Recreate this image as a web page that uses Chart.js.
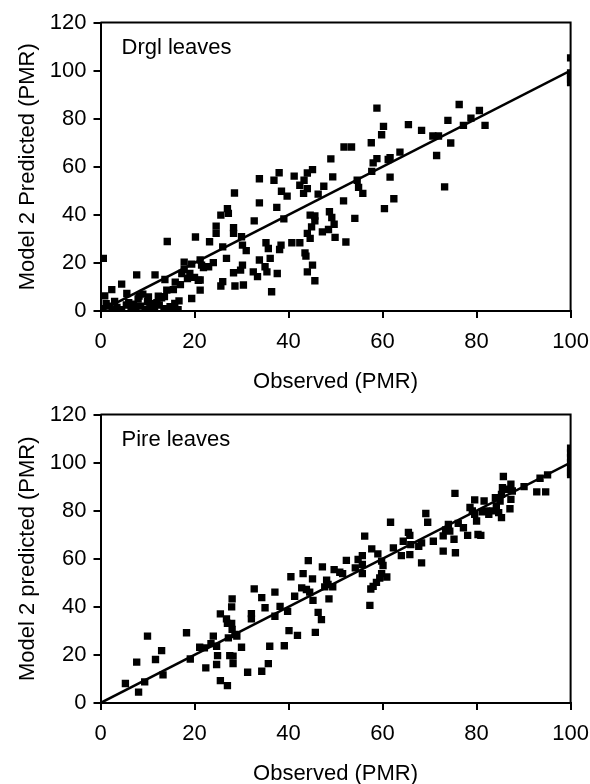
<!DOCTYPE html>
<html>
<head>
<meta charset="utf-8">
<title>Model 2 predicted vs observed PMR</title>
<script src="https://cdn.jsdelivr.net/npm/chart.js@4.4.1/dist/chart.umd.min.js"></script>
<style>
  html, body { margin: 0; padding: 0; background: #fff; overflow: hidden; }
  #wrap { position: relative; width: 590px; height: 784px; overflow: hidden; }
  .panel { position: absolute; left: 0; width: 590px; height: 400px; }
</style>
</head>
<body>
<div id="wrap">
  <div class="panel" style="top:0"><canvas id="drglChart" width="590" height="400"></canvas></div>
  <div class="panel" style="top:392px"><canvas id="pireChart" width="590" height="400"></canvas></div>
</div>
<script>
// Axis ticks
const xTicks = [0, 20, 40, 60, 80, 100];
const yTicks = [0, 20, 40, 60, 80, 100, 120];

// 1:1 line
const fitX = [0, 100];
const fitY = [0, 100];

// Drgl leaves - observed PMR
const drglObs = [
  0.6, 14.2, 20.2, 7.7, 11.6, 13.7, 4.5, 2.4, 0.9, 5.6, 8.2, 10.2, 12.3, 13.6, 14.1, 15.5, 16.7, 19.4, 14.8,
  17.8, 17.8, 17.3, 19.4, 19.0, 20.8, 21.2, 15.9, 17.0, 18.5, 20.0,
  0.5, 1.5, 2.5, 3.5, 4.5, 5.5, 6.5, 7.5, 8.5, 9.5, 10.5, 11.5, 12.5, 13.5, 14.5, 15.5, 16.5,
  3.0, 6.0, 8.0, 10.0, 12.0, 13.0, 9.0, 11.0, 1.2, 7.0, 15.8,
  51.8, 53.4, 49.0, 38.0, 36.9, 33.8, 41.2, 44.0, 45.1, 43.3, 49.4, 42.4, 44.0, 43.2, 38.5, 39.7, 47.5, 46.3,
  54.6, 54.9, 55.8, 51.7, 28.5, 33.8, 37.5, 27.0, 27.2, 25.6, 24.6, 24.6, 23.2, 28.3, 28.3, 30.0, 32.7, 39.0,
  44.6, 45.6, 48.7, 49.2, 45.6, 44.9, 49.7, 48.5, 47.2, 44.0, 44.6, 54.1, 49.9, 52.2, 40.7, 42.4, 35.2, 35.7,
  38.4, 38.1, 43.5, 43.7, 36.1, 33.8, 30.2, 31.0, 26.0, 26.8, 21.2, 21.5, 24.0, 23.0, 21.9, 30.2, 29.8, 28.3,
  32.5, 33.4, 35.0, 35.4, 37.6, 45.1, 44.0, 45.6, 26.0, 25.6, 28.6, 30.4, 36.4, 21.2,
  58.8, 60.2, 59.8, 57.6, 58.8, 58.0, 57.7, 61.6, 61.2, 63.7, 65.5, 68.3, 70.7, 71.9, 74.5, 71.5, 73.2, 73.9,
  76.3, 78.8, 77.2, 80.6, 81.8, 61.6, 62.4, 60.4,
  100, 100, 100, 100, 100
];
// Drgl leaves - Model 2 predicted PMR
const drglPred = [
  21.9, 28.9, 30.8, 15.0, 15.0, 13.1, 11.2, 8.9, 6.3, 7.3, 6.2, 5.9, 6.2, 6.0, 8.7, 8.9, 4.2, 5.2, 1.8,
  20.3, 17.3, 15.6, 19.5, 15.6, 12.8, 8.7, 12.0, 11.0, 13.5, 14.0,
  1.0, 2.0, 0.5, 1.5, 0.5, 2.5, 1.0, 0.5, 2.0, 0.8, 1.5, 0.5, 2.5, 1.0, 0.5, 1.5, 0.5,
  4.0, 3.5, 5.0, 4.0, 3.5, 5.5, 7.0, 3.0, 3.0, 2.8, 3.2,
  68.2, 68.2, 63.3, 57.5, 54.4, 55.0, 56.1, 57.4, 58.8, 54.4, 55.8, 52.3, 50.9, 48.9, 49.8, 47.8, 51.9, 48.6,
  54.4, 51.4, 48.9, 45.8, 49.1, 45.0, 43.1, 42.6, 40.6, 39.9, 35.3, 32.3, 28.8, 34.7, 32.3, 30.9, 37.5, 38.3,
  39.9, 39.5, 41.3, 38.9, 37.5, 35.0, 36.1, 33.9, 32.9, 32.3, 30.2, 38.5, 30.6, 28.7, 28.4, 28.4, 28.4, 26.0,
  27.4, 25.6, 24.2, 22.8, 21.9, 21.2, 27.4, 25.1, 26.7, 21.9, 21.2, 19.1, 20.1, 18.4, 18.1, 19.1, 17.0, 15.9,
  16.3, 14.3, 18.4, 16.3, 15.6, 19.1, 16.3, 12.6, 12.2, 10.4, 10.4, 10.8, 8.0, 12.9,
  84.4, 76.8, 73.3, 70.0, 63.4, 61.6, 58.1, 63.8, 63.0, 66.1, 77.5, 75.1, 72.8, 72.8, 69.9, 64.7, 51.6, 79.3,
  85.9, 80.2, 77.2, 83.4, 77.2, 55.7, 46.7, 42.6,
  105.3, 99.0, 98.0, 96.5, 95.0
];

// Pire leaves - observed PMR
const pireObs = [
  5.3, 8.1, 9.4, 7.7, 10.0, 11.7, 13.0, 13.3, 18.3, 19.1, 21.1, 22.1, 22.4, 24.0, 23.5, 24.7, 24.9, 24.7,
  25.5, 27.0, 25.5, 26.8, 27.0, 27.9, 28.0, 28.6, 29.0, 27.2, 27.9, 28.0, 27.5, 28.2, 28.2, 30.0, 31.3, 32.1,
  32.1, 32.7, 34.3, 35.0, 34.3, 35.7, 36.0, 37.1, 37.1,
  38.2, 39.8, 41.3, 40.5, 43.1, 44.2, 45.1, 42.8, 43.8, 44.5, 45.2, 47.2, 48.1, 47.7, 48.4, 49.4, 48.6, 46.3,
  47.0, 45.7, 40.1, 41.9, 39.1, 49.7, 50.9, 51.5, 52.3, 54.2, 54.8, 55.7, 55.7, 55.7, 56.2, 57.7, 59.0, 59.8,
  60.1, 59.8, 59.4, 60.9, 58.7, 58.0, 57.5, 57.3, 61.7, 62.3, 64.0, 65.8, 64.4, 65.5, 65.8, 66.0, 67.7, 68.3,
  69.2, 69.6, 68.3, 70.8,
  75.4, 72.9, 75.5, 73.4, 74.0, 74.3, 75.2, 76.1, 77.2, 78.1, 72.9, 78.6, 79.1, 79.6, 80.0, 80.3, 80.9, 79.6,
  81.2, 81.6, 82.1, 82.6, 83.5, 84.0, 84.2, 85.0, 85.3, 84.7, 85.3, 85.7, 85.5, 86.4, 87.3, 87.6, 87.3, 87.1,
  90.1, 92.8, 94.7, 93.5, 95.1,
  100, 100, 100, 100, 100, 100, 100
];
// Pire leaves - Model 2 predicted PMR
const pirePred = [
  8.1, 4.5, 8.8, 17.0, 27.8, 18.1, 21.8, 11.7, 29.2, 18.3, 23.2, 22.9, 14.6, 27.8, 24.7, 23.6, 19.7, 16.0,
  9.3, 7.2, 37.1, 35.0, 33.1, 33.1, 30.6, 28.5, 27.8, 27.1, 40.0, 43.3, 19.7, 19.5, 16.4, 23.2, 12.8, 37.2,
  35.0, 47.5, 43.8, 39.6, 13.2, 16.4, 23.6, 46.1, 36.1,
  40.2, 38.1, 44.4, 52.5, 53.8, 59.2, 51.6, 47.9, 47.2, 46.1, 42.7, 56.6, 51.1, 48.3, 49.3, 48.3, 43.3, 37.7,
  34.7, 29.4, 30.1, 28.1, 23.8, 55.5, 54.4, 53.8, 59.3, 56.2, 59.7, 61.3, 57.6, 53.8, 69.4, 64.1, 62.0, 59.0,
  57.2, 53.8, 52.0, 52.4, 50.2, 48.5, 47.4, 40.6, 75.2, 64.5, 61.3, 61.7, 67.3, 71.0, 69.7, 65.9, 65.2, 66.6,
  78.8, 75.2, 58.3, 67.3,
  87.2, 63.2, 62.5, 72.0, 74.3, 71.5, 68.1, 74.7, 72.9, 69.7, 69.5, 81.3, 79.9, 78.5, 75.7, 70.1, 69.7, 84.5,
  79.5, 84.0, 79.9, 78.5, 79.9, 85.4, 82.0, 84.0, 86.8, 79.2, 77.1, 94.2, 89.6, 88.9, 91.0, 88.2, 84.7, 80.8,
  90.0, 87.8, 87.8, 93.5, 94.9,
  106, 104, 102, 100, 98, 96, 95
];

const FONT = '"Liberation Sans", Arial, Helvetica, sans-serif';

// draws the top and right edges of the plot box and the panel name
const framePlugin = {
  id: 'frame',
  afterDraw(chart, args, opts) {
    const {ctx, chartArea: a} = chart;
    ctx.save();
    ctx.strokeStyle = '#000';
    ctx.lineWidth = 2;
    ctx.beginPath();
    ctx.moveTo(a.left, a.top);
    ctx.lineTo(a.right, a.top);
    ctx.lineTo(a.right, a.bottom);
    ctx.stroke();
    ctx.fillStyle = '#000';
    ctx.font = '22px ' + FONT;
    ctx.textBaseline = 'middle';
    ctx.fillText(opts.label, a.left + 21, a.top + 25);
    ctx.restore();
  }
};

function toPoints(xs, ys) {
  return xs.map((x, i) => ({x: x, y: ys[i]}));
}

function makeChart(id, obs, pred, yTitle, label) {
  return new Chart(document.getElementById(id).getContext('2d'), {
    type: 'scatter',
    data: {
      datasets: [{
        data: toPoints(obs, pred),
        pointStyle: 'rect',
        pointRadius: 5.2,
        pointBorderWidth: 0,
        backgroundColor: '#000',
        borderColor: '#000'
      }, {
        type: 'line',
        data: toPoints(fitX, fitY),
        borderColor: '#000',
        borderWidth: 2.5,
        pointRadius: 0,
        fill: false
      }]
    },
    options: {
      responsive: false,
      animation: false,
      layout: { padding: { top: 22.5, right: 19.4, bottom: 0, left: 0 } },
      plugins: {
        legend: { display: false },
        tooltip: { enabled: false },
        frame: { label: label }
      },
      scales: {
        x: {
          type: 'linear',
          min: xTicks[0],
          max: xTicks[xTicks.length - 1],
          afterBuildTicks: s => { s.ticks = xTicks.map(v => ({value: v})); },
          afterFit: s => { s.height = 89; s.paddingLeft = 0; s.paddingRight = 0; },
          ticks: { color: '#000', font: { family: FONT, size: 22 }, padding: 11, maxRotation: 0 },
          grid: { drawOnChartArea: false, drawTicks: true, tickLength: 7, color: '#000', lineWidth: 2 },
          border: { display: true, color: '#000', width: 2 },
          title: {
            display: true, text: 'Observed (PMR)', color: '#000',
            font: { family: FONT, size: 22, lineHeight: 1.636 }, padding: 0
          }
        },
        y: {
          type: 'linear',
          min: yTicks[0],
          max: yTicks[yTicks.length - 1],
          afterBuildTicks: s => { s.ticks = yTicks.map(v => ({value: v})); },
          afterFit: s => { s.width = 100.5; s.paddingTop = 0; s.paddingBottom = 0; },
          ticks: { color: '#000', font: { family: FONT, size: 22 }, padding: 7 },
          grid: { drawOnChartArea: false, drawTicks: true, tickLength: 7, color: '#000', lineWidth: 2 },
          border: { display: true, color: '#000', width: 2 },
          title: {
            display: true, text: yTitle, color: '#000',
            font: { family: FONT, size: 22, lineHeight: 1 }, padding: { top: 17, bottom: 0 }
          }
        }
      }
    },
    plugins: [framePlugin]
  });
}

makeChart('drglChart', drglObs, drglPred, 'Model 2 Predicted (PMR)', 'Drgl leaves');
makeChart('pireChart', pireObs, pirePred, 'Model 2 predicted (PMR)', 'Pire leaves');
</script>
</body>
</html>
